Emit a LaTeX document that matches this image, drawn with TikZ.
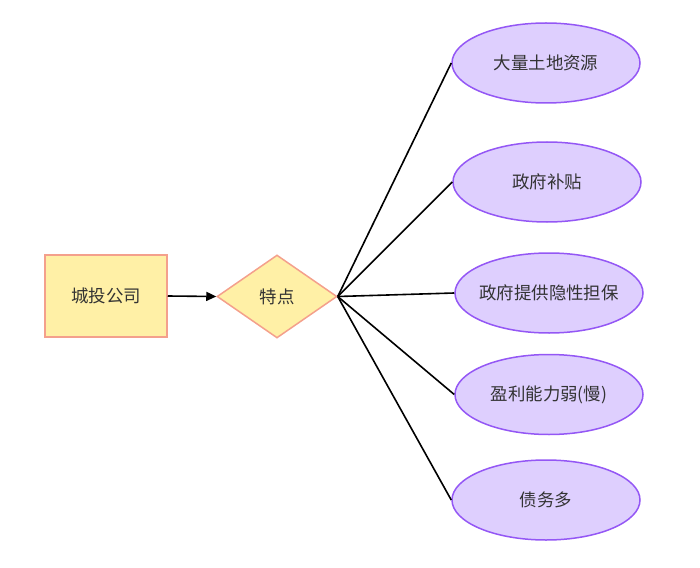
\documentclass[tikz,border=0pt]{standalone}
\usepackage{fontspec}
\setmainfont{Noto Sans CJK SC}
\usetikzlibrary{shapes.geometric,arrows.meta}
\definecolor{boxfill}{HTML}{FFF0A6}
\definecolor{boxline}{HTML}{F4A08C}
\definecolor{ellfill}{HTML}{DECFFE}
\definecolor{ellline}{HTML}{9457F5}
\definecolor{txt}{HTML}{333333}
\tikzset{
  every node/.style={font=\fontsize{17.5}{21}\selectfont, text=txt},
  startbox/.style={draw=boxline, fill=boxfill, line width=1.5bp, minimum width=122bp, minimum height=82bp, inner sep=0pt},
  decide/.style={diamond, draw=boxline, fill=boxfill, line width=1.5bp, minimum width=120bp, minimum height=83bp, inner sep=0pt},
  feat/.style={ellipse, draw=ellline, fill=ellfill, line width=1.5bp, minimum width=188bp, minimum height=80bp, inner xsep=-8bp, inner ysep=0pt},
  link/.style={draw=black, line width=1.6bp},
  arr/.style={draw=black, line width=1.6bp, -{Triangle[length=10bp,width=9bp]}}
}
\begin{document}
\begin{tikzpicture}[x=1bp,y=-1bp]
\useasboundingbox (0,0) rectangle (700,568);
\node[startbox] (c) at (106,296) {城投公司};
\node[decide] (t) at (277,296.5) {特点};
\node[feat] (e1) at (546,63) {大量土地资源};
\node[feat] (e2) at (547,182) {政府补贴};
\node[feat] (e3) at (549,293) {政府提供隐性担保};
\node[feat] (e4) at (549,394.5) {盈利能力弱(慢)};
\node[feat] (e5) at (546,500) {债务多};
\draw[arr] (c.east) -- (t.west);
\foreach \e in {e1,e2,e3,e4,e5} \draw[link] (t.east) -- (\e.west);
\end{tikzpicture}
\end{document}
